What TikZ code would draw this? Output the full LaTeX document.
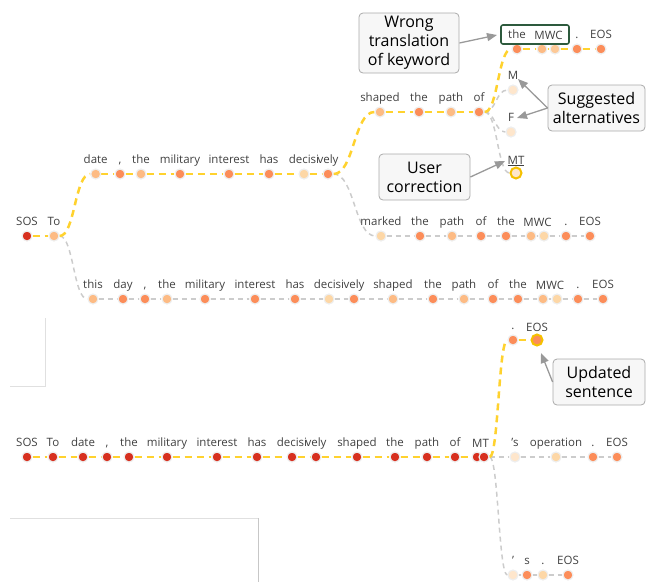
\documentclass[tikz,border=0pt]{standalone}
\usepackage{fontspec}
\setmainfont{Open Sans}
\usetikzlibrary{arrows.meta,calc,backgrounds}
\definecolor{dred}{HTML}{D7301F}
\definecolor{orng}{HTML}{FC8D59}
\definecolor{lite}{HTML}{FDBB84}
\definecolor{lite2}{HTML}{FDC997}
\definecolor{pale}{HTML}{FDD7A6}
\definecolor{vpale}{HTML}{FEE6CC}
\definecolor{ylw}{HTML}{FFD22E}
\definecolor{gln}{HTML}{CCCCCC}
\definecolor{halo}{HTML}{EEEEEE}
\definecolor{ringc}{HTML}{F5C000}
\definecolor{lblc}{HTML}{404040}
\definecolor{boxc}{HTML}{AAAAAA}
\definecolor{boxf}{HTML}{F7F7F7}
\definecolor{arrc}{HTML}{999999}
\definecolor{grn}{HTML}{2D5A3D}
\newcommand\tokdot[5]{\node[#4,label={[lbl]90:{#5}}] (#1) at (#2,#3) {};}
\begin{document}
\begin{tikzpicture}[x=1pt,y=-1pt,
  tok/.style={circle,inner sep=0pt,minimum size=10pt,fill=#1,draw=halo,line width=1.2pt},
  ringtok/.style={circle,inner sep=0pt,minimum size=11pt,fill=#1,draw=ringc,line width=2pt},
  lbl/.style={font=\fontsize{11.5}{13}\selectfont,text=lblc,anchor=base,inner sep=0pt},
  label distance=4.5pt,
  ye/.style={draw=ylw,line width=2.5pt,dash pattern=on 7pt off 5pt},
  ge/.style={draw=gln,line width=1.5pt,dash pattern=on 5pt off 4pt},
  note/.style={draw=boxc,fill=boxf,rounded corners=4pt,line width=0.8pt,align=center,
    font=\fontsize{16}{19}\selectfont,inner sep=2pt,text=black},
  arr/.style={draw=arrc,line width=1.3pt,-{Triangle[length=10pt,width=8pt]}},
  stray/.style={draw=black!12,line width=0.8pt}]
\useasboundingbox (0,0) rectangle (646,582);

% stray panel borders
\draw[stray] (45,318) -- (45,386) -- (10,386);
\draw[stray] (10,518) -- (258,518);
\draw[draw=black!22,line width=0.8pt] (258,518) -- (258,582);

% ---------- top tree: tokens ----------
\tokdot{s0}{27}{236}{tok=dred}{SOS}
\tokdot{s1}{54}{236}{tok=lite}{To}
% row A
\tokdot{a1}{95.7}{174}{tok=lite}{date}
\tokdot{a2}{120}{174}{tok=orng}{,}
\tokdot{a3}{141}{174}{tok=lite}{the}
\tokdot{a4}{180}{174}{tok=orng}{military}
\tokdot{a5}{229}{174}{tok=orng}{interest}
\tokdot{a6}{269}{174}{tok=orng}{has}
\tokdot{a7}{304}{174}{tok=pale}{decisi}
\tokdot{a8}{328}{174}{tok=orng}{vely}
% row B
\tokdot{b1}{380}{112}{tok=lite}{shaped}
\tokdot{b2}{419}{112}{tok=orng}{the}
\tokdot{b3}{451}{112}{tok=lite}{path}
\tokdot{b4}{479}{112}{tok=orng}{of}
% row C
\tokdot{c1}{517}{49}{tok=orng}{the}
\node[tok=lite] (c2) at (542,49) {};
\node[tok=lite2] (c3) at (555,49) {};
\node[lbl] (cM) at ($(c2)!0.5!(c3)+(0,-9.5)$) {MWC};
\tokdot{c4}{577}{49}{tok=orng}{.}
\tokdot{c5}{601}{49}{tok=orng}{EOS}
\node[draw=grn,line width=1.6pt,rounded corners=2pt,minimum width=68pt,minimum height=19pt,inner sep=0pt] (kw) at (535,34.5) {};
% alternatives
\tokdot{m1}{513}{90}{tok=vpale}{M}
\tokdot{f1}{511}{132}{tok=vpale}{F}
\node[ringtok=vpale,label={[lbl,yshift=-2pt]90:\underline{MT}}] (t1) at (516,173) {};
% row D
\tokdot{d1}{381}{236}{tok=pale}{marked}
\tokdot{d2}{420}{236}{tok=orng}{the}
\tokdot{d3}{452}{236}{tok=lite}{path}
\tokdot{d4}{481}{236}{tok=orng}{of}
\tokdot{d5}{506}{236}{tok=orng}{the}
\node[tok=lite] (d6) at (531,236) {};
\node[tok=pale] (d7) at (544,236) {};
\node[lbl] (dM) at ($(d6)!0.5!(d7)+(0,-9.5)$) {MWC};
\tokdot{d8}{566}{236}{tok=orng}{.}
\tokdot{d9}{590}{236}{tok=orng}{EOS}
% row E
\tokdot{e1}{93}{299}{tok=lite}{this}
\tokdot{e2}{123}{299}{tok=orng}{day}
\tokdot{e3}{145}{299}{tok=orng}{,}
\tokdot{e4}{167}{299}{tok=lite}{the}
\tokdot{e5}{205}{299}{tok=orng}{military}
\tokdot{e6}{255}{299}{tok=orng}{interest}
\tokdot{e7}{295}{299}{tok=orng}{has}
\tokdot{e8}{329}{299}{tok=pale}{decisi}
\tokdot{e9}{354}{299}{tok=orng}{vely}
\tokdot{e10}{393}{299}{tok=lite}{shaped}
\tokdot{e11}{433}{299}{tok=orng}{the}
\tokdot{e12}{464}{299}{tok=lite}{path}
\tokdot{e13}{493}{299}{tok=orng}{of}
\tokdot{e14}{518}{299}{tok=orng}{the}
\node[tok=lite] (e15) at (543,299) {};
\node[tok=pale] (e16) at (557,299) {};
\node[lbl] (eM) at ($(e15)!0.5!(e16)+(0,-9.5)$) {MWC};
\tokdot{e17}{578}{299}{tok=orng}{.}
\tokdot{e18}{603}{299}{tok=orng}{EOS}

% ---------- bottom tree: tokens ----------
\tokdot{g1}{27}{457}{tok=dred}{SOS}
\tokdot{g2}{53}{457}{tok=dred}{To}
\tokdot{g3}{83}{457}{tok=dred}{date}
\tokdot{g4}{107}{457}{tok=dred}{,}
\tokdot{g5}{129}{457}{tok=dred}{the}
\tokdot{g6}{167}{457}{tok=dred}{military}
\tokdot{g7}{217}{457}{tok=dred}{interest}
\tokdot{g8}{257}{457}{tok=dred}{has}
\tokdot{g9}{292}{457}{tok=dred}{decisi}
\tokdot{g10}{316}{457}{tok=dred}{vely}
\tokdot{g11}{357}{457}{tok=dred}{shaped}
\tokdot{g12}{395}{457}{tok=dred}{the}
\tokdot{g13}{427}{457}{tok=dred}{path}
\tokdot{g14}{455}{457}{tok=dred}{of}
\node[tok=dred] (g15) at (477,457) {};
\node[tok=dred] (g16) at (484,457) {};
\node[lbl] (gM) at ($(g15)!0.5!(g16)+(0,-9.5)$) {MT};
\tokdot{h1}{515}{457}{tok=vpale}{'s}
\tokdot{h2}{556}{457}{tok=pale}{operation}
\tokdot{h3}{593}{457}{tok=orng}{.}
\tokdot{h4}{617}{457}{tok=orng}{EOS}
\tokdot{i1}{513}{340}{tok=orng}{.}
\node[ringtok=orng,label={[lbl,yshift=-2pt]90:EOS}] (i2) at (537,340) {};
\tokdot{j1}{513}{575}{tok=vpale}{'}
\tokdot{j2}{527}{575}{tok=orng}{s}
\tokdot{j3}{543}{575}{tok=pale}{.}
\tokdot{j4}{568}{575}{tok=orng}{EOS}

% ---------- callout boxes ----------
\node[note,minimum width=100pt,minimum height=60pt] (nWrong) at (409,43) {Wrong\\translation\\of keyword};
\node[note,minimum width=97pt,minimum height=46pt] (nSug) at (596.5,108) {Suggested\\alternatives};
\node[note,minimum width=91pt,minimum height=46pt] (nUser) at (424.5,177) {User\\correction};
\node[note,minimum width=92pt,minimum height=46pt] (nUpd) at (599,382) {Updated\\sentence};
\coordinate (kwin) at (497,35);
\coordinate (mtip) at (518,79);
\coordinate (ftip) at (517,118);
\coordinate (ttip) at (505,161);
\coordinate (utip) at (541,353);
\draw[arr] (nWrong.east) -- (kwin);
\draw[arr] (nSug.west) -- (mtip);
\draw[arr] (nSug.west) -- (ftip);
\draw[arr] (nUser.east) -- (ttip);
\draw[arr] (nUpd.west) -- (utip);

% ---------- connectors (behind the dots) ----------
\begin{scope}[on background layer]
% top: grey alternatives first
\draw[ge] (s1) .. controls +(19.5,0) and +(-19.5,0) .. (e1);
\draw[ge] (e1) -- (e2) -- (e3) -- (e4) -- (e5) -- (e6) -- (e7) -- (e8) -- (e9) -- (e10)
  -- (e11) -- (e12) -- (e13) -- (e14) -- (e15) -- (e16) -- (e17) -- (e18);
\draw[ge] (a8) .. controls +(26.5,0) and +(-26.5,0) .. (d1);
\draw[ge] (d1) -- (d2) -- (d3) -- (d4) -- (d5) -- (d6) -- (d7) -- (d8) -- (d9);
\draw[ge] (b4) .. controls +(17,0) and +(-17,0) .. (m1);
\draw[ge] (b4) .. controls +(16,0) and +(-16,0) .. (f1);
\draw[ge] (b4) .. controls +(18.5,0) and +(-18.5,0) .. (t1);
% top: chosen path
\draw[ye] (s0) -- (s1);
\draw[ye] (s1) .. controls +(21,0) and +(-21,0) .. (a1);
\draw[ye] (a1) -- (a2) -- (a3) -- (a4) -- (a5) -- (a6) -- (a7) -- (a8);
\draw[ye] (a8) .. controls +(26,0) and +(-26,0) .. (b1);
\draw[ye] (b1) -- (b2) -- (b3) -- (b4);
\draw[ye] (b4) .. controls +(19,0) and +(-19,0) .. (c1);
\draw[ye] (c1) -- (c2) -- (c3) -- (c4) -- (c5);
% bottom
\draw[ge] (g16) -- (h1) -- (h2) -- (h3) -- (h4);
\draw[ge] (g16) .. controls +(14.5,0) and +(-14.5,0) .. (j1);
\draw[ge] (j1) -- (j2) -- (j3) -- (j4);
\draw[ye] (g1) -- (g2) -- (g3) -- (g4) -- (g5) -- (g6) -- (g7) -- (g8) -- (g9) -- (g10)
  -- (g11) -- (g12) -- (g13) -- (g14) -- (g15) -- (g16);
\draw[ye] (g16) .. controls +(14.5,0) and +(-14.5,0) .. (i1);
\draw[ye] (i1) -- (i2);
\end{scope}
\end{tikzpicture}
\end{document}
